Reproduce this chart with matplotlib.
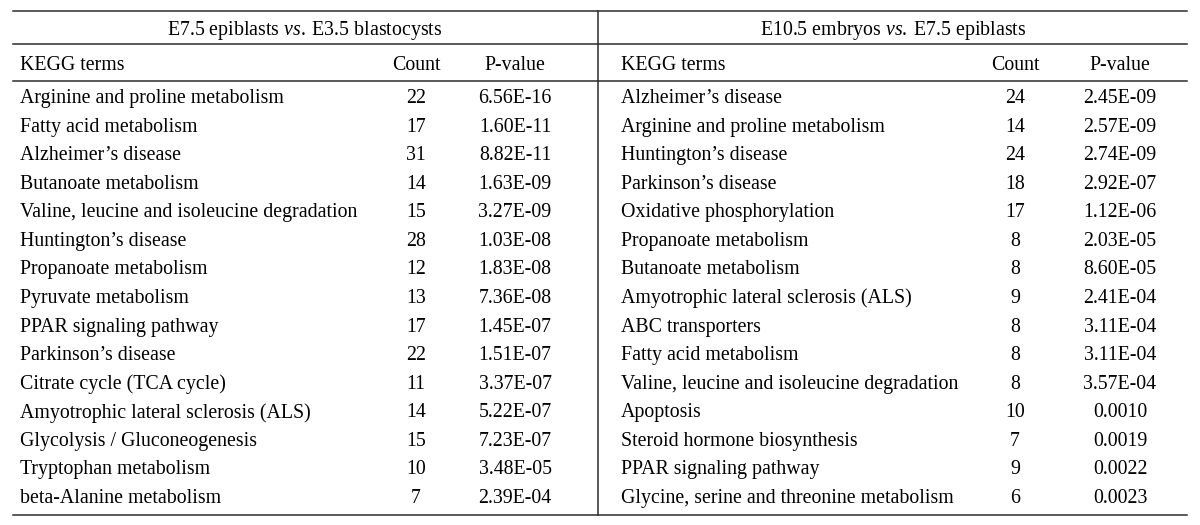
import matplotlib
matplotlib.use("Agg")
import matplotlib.pyplot as plt

plt.rcParams['font.family'] = ['Liberation Serif', 'DejaVu Serif']
plt.rcParams['mathtext.fontset'] = 'custom'
plt.rcParams['mathtext.rm'] = 'Liberation Serif'
plt.rcParams['mathtext.it'] = 'Liberation Serif:italic'

# left panel: E7.5 epiblasts vs. E3.5 blastocysts
left_title = r"E7.5 epiblasts $\mathit{vs.}\;$E3.5 blastocysts"
left_terms = ["Arginine and proline metabolism", "Fatty acid metabolism", "Alzheimer’s disease",
              "Butanoate metabolism", "Valine, leucine and isoleucine degradation",
              "Huntington’s disease", "Propanoate metabolism", "Pyruvate metabolism",
              "PPAR signaling pathway", "Parkinson’s disease", "Citrate cycle (TCA cycle)",
              "Amyotrophic lateral sclerosis (ALS)", "Glycolysis / Gluconeogenesis",
              "Tryptophan metabolism", "beta-Alanine metabolism"]
left_counts = [22, 17, 31, 14, 15, 28, 12, 13, 17, 22, 11, 14, 15, 10, 7]
left_pvals = ["6.56E-16", "1.60E-11", "8.82E-11", "1.63E-09", "3.27E-09", "1.03E-08", "1.83E-08",
              "7.36E-08", "1.45E-07", "1.51E-07", "3.37E-07", "5.22E-07", "7.23E-07",
              "3.48E-05", "2.39E-04"]

# right panel: E10.5 embryos vs. E7.5 epiblasts
right_title = r"E10.5 embryos $\mathit{vs.}\;$E7.5 epiblasts"
right_terms = ["Alzheimer’s disease", "Arginine and proline metabolism", "Huntington’s disease",
               "Parkinson’s disease", "Oxidative phosphorylation", "Propanoate metabolism",
               "Butanoate metabolism", "Amyotrophic lateral sclerosis (ALS)", "ABC transporters",
               "Fatty acid metabolism", "Valine, leucine and isoleucine degradation", "Apoptosis",
               "Steroid hormone biosynthesis", "PPAR signaling pathway",
               "Glycine, serine and threonine metabolism"]
right_counts = [24, 14, 24, 18, 17, 8, 8, 9, 8, 8, 8, 10, 7, 9, 6]
right_pvals = ["2.45E-09", "2.57E-09", "2.74E-09", "2.92E-07", "1.12E-06", "2.03E-05", "8.60E-05",
               "2.41E-04", "3.11E-04", "3.11E-04", "3.57E-04", "0.0010", "0.0019", "0.0022", "0.0023"]

headers = ["KEGG terms", "Count", "P-value"]

fig = plt.figure(figsize=(12, 5.25), dpi=100)
ax = fig.add_axes([0, 0, 1, 1])
ax.set_xlim(0, 1200)
ax.set_ylim(525, 0)
ax.axis('off')

fs = 14.3
line_kw = dict(color='#2b2b2b', lw=1.1)

# rules
for y in [10.5, 44, 81, 515]:
    ax.plot([13, 1187], [y, y], **line_kw)
ax.plot([598, 598], [10.5, 515], **line_kw)

row_y0 = 98.5
row_step = 28.57

panels = [
    (left_title, left_terms, left_counts, left_pvals, 20, 416, 515, 305),
    (right_title, right_terms, right_counts, right_pvals, 621, 1015, 1120, 893),
]
for title, terms, counts, pvals, x_name, x_count, x_p, x_title in panels:
    ax.text(x_title, 31, title, ha='center', va='center', fontsize=fs)
    ax.text(x_name, 66, headers[0], ha='left', va='center', fontsize=fs)
    ax.text(x_count, 66, headers[1], ha='center', va='center', fontsize=fs)
    ax.text(x_p, 66, headers[2], ha='center', va='center', fontsize=fs)
    for i, (t, c, p) in enumerate(zip(terms, counts, pvals)):
        y = row_y0 + i * row_step
        ax.text(x_name, y, t, ha='left', va='center', fontsize=fs)
        ax.text(x_count, y, str(c), ha='center', va='center', fontsize=fs)
        ax.text(x_p, y, p, ha='center', va='center', fontsize=fs)

fig.savefig('out.png', dpi=100, facecolor='white')
